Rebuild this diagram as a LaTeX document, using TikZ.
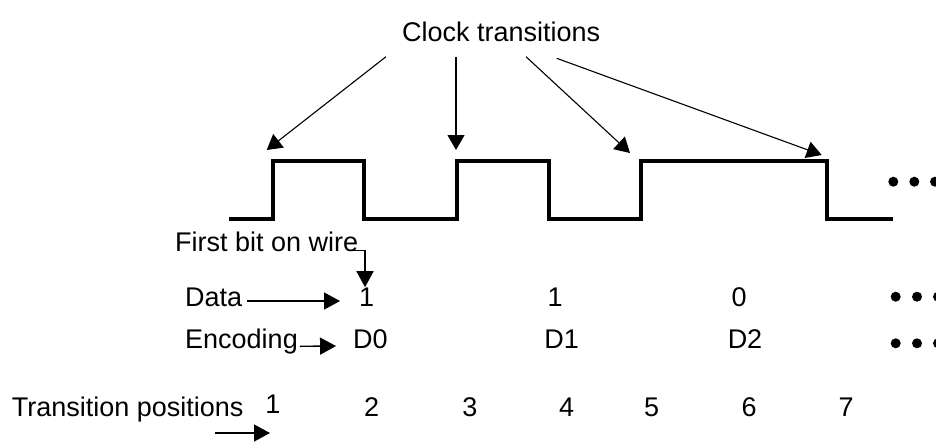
\documentclass[tikz,border=0pt]{standalone}
\usepackage{fontspec}
\setmainfont{Liberation Sans}
\usetikzlibrary{arrows.meta,positioning}

\begin{document}
\begin{tikzpicture}[x=1pt, y=-1pt,
      lbl/.style={font=\fontsize{27}{32}\selectfont, inner sep=0pt,
                  anchor=base west},
      val/.style={font=\fontsize{27}{32}\selectfont, inner sep=0pt,
                  anchor=base},
      wave/.style={line width=3.6pt, line join=miter},
      arr/.style={-{Triangle[length=16pt,width=17pt]}, line width=1.4pt},
      clkarr/.style={-{Triangle[length=15pt,width=17pt]}, line width=1.1pt}
  ]
    \clip (0,0) rectangle (936,445);

    % labels
    \node[lbl] (clk) at (402,41.7) {Clock transitions};
    \node[lbl] (first) at (175,251.7) {First bit on wire};
    \node[lbl] (data) at (185,306) {Data};
    \node[lbl] (enc) at (185,348.3) {Encoding};
    \node[lbl] (tpos) at (11.7,416.7) {Transition positions};

    % clock waveform
    \draw[wave] (229,219) -- (273,219) -- (273,161) -- (364,161) -- (364,219)
      -- (457,219) -- (457,161) -- (549,161) -- (549,219) -- (641,219)
      -- (641,161) -- (827,161) -- (827,219) -- (893,219);
    \coordinate (t1) at (266.7,150);
    \coordinate (t2) at (456,150);
    \coordinate (t3) at (630,153);
    \coordinate (t4) at (821.7,155);

    \draw[clkarr] ([shift={(-16,15)}]clk.base west) -- (t1);
    \draw[clkarr] ([shift={(54,15)}]clk.base west) -- (t2);
    \draw[clkarr] ([shift={(124,15)}]clk.base west) -- (t3);
    \draw[clkarr] ([shift={(154.7,16.6)}]clk.base west) -- (t4);

    % data and encoding
    \node[val] (d0) at (366.7,306) {1};
    \node[val] (d1) at (555,306) {1};
    \node[val] (d2) at (739,306) {0};
    \node[val] (e0) at (370.5,348) {D0};
    \node[val] (e1) at (561.7,348) {D1};
    \node[val] (e2) at (745,348) {D2};

    \draw[arr] ([shift={(-8,-1)}]first.base east) -| ([xshift=-1.7pt]d0.north);
    \draw[arr] ([shift={(5,-5)}]data.base east) -- ([shift={(-26.7,-5)}]d0.base);
    \draw[arr] ([shift={(2,-2)}]enc.base east) -- ([shift={(-17,-2)}]e0.base west);

    % transition positions
    \node[val] (p1) at (273,413) {1};
    \foreach \n/\px in {2/371.7,3/470,4/566.7,5/651.7,6/749,7/846}
      \node[val] (p\n) at (\px,416.7) {\n};
    \draw[arr] ([shift={(-58,20)}]p1.base) -- ([shift={(-3,20)}]p1.base);

    % continuation dots
    \foreach \dx in {893.3,914.3,935}
      \fill (\dx,181.7) circle (5pt);
    \foreach \dy in {296.7,343.3}
      \foreach \dx in {895.7,917,938}
        \fill (\dx,\dy) circle (5pt);
  \end{tikzpicture}
\end{document}
